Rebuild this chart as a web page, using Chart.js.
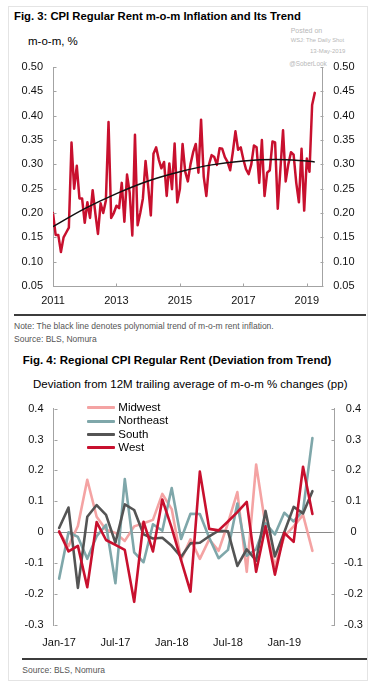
<!DOCTYPE html>
<html><head><meta charset="utf-8">
<script src="https://cdn.jsdelivr.net/npm/chart.js@4.4.1/dist/chart.umd.min.js"></script>
<style>
html,body{margin:0;padding:0;background:#fff;}
body{width:380px;height:688px;position:relative;overflow:hidden;font-family:"Liberation Sans",Arial,sans-serif;}
.t{position:absolute;white-space:nowrap;line-height:1;}
#frame{position:absolute;left:8px;top:6px;width:360px;height:675px;border:1px solid #e4e4e4;box-sizing:border-box;}
.wm{color:#b8b8b8;}
.sep{position:absolute;background:#3c3c3c;height:2px;}
canvas{position:absolute;left:0;}
.lg{position:absolute;width:28px;height:3px;border-radius:1px;}
</style></head><body>
<div id="frame"></div>
<div class="t" style="left:14px;top:11.1px;font-size:11.3px;font-weight:bold;">Fig. 3: CPI Regular Rent m-o-m Inflation and Its Trend</div>
<div class="t" style="left:28px;top:36.3px;font-size:11.5px;">m-o-m, %</div>
<div class="t wm" style="left:290.7px;top:26.8px;font-size:7px;">Posted on</div>
<div class="t wm" style="left:290.7px;top:37.8px;font-size:5.8px;">WSJ: The Daily Shot</div>
<div class="t wm" style="left:310px;top:48.2px;font-size:6px;">13-May-2019</div>
<div class="t wm" style="left:289.3px;top:61.3px;font-size:6.4px;">@SoberLook</div>
<canvas id="c1" width="380" height="260" style="top:50px"></canvas>
<div class="sep" style="left:14px;top:314px;width:352px;"></div>
<div class="t" style="left:14px;top:322.1px;font-size:8.5px;color:#555;">Note: The black line denotes polynomial trend of m-o-m rent inflation.</div>
<div class="t" style="left:14px;top:335.1px;font-size:8.5px;color:#555;">Source: BLS, Nomura</div>
<div class="t" style="left:22.7px;top:355.3px;font-size:11.5px;font-weight:bold;">Fig. 4: Regional CPI Regular Rent (Deviation from Trend)</div>
<div class="t" style="left:33px;top:379.3px;font-size:11.5px;">Deviation from 12M trailing average of m-o-m % changes (pp)</div>
<canvas id="c2" width="380" height="263" style="top:392px"></canvas>
<div id="legend"></div>
<div class="sep" style="left:22px;top:658px;width:345px;"></div>
<div class="t" style="left:22.3px;top:665.5px;font-size:8.5px;color:#555;">Source: BLS, Nomura</div>
<script>
// ---------- Fig. 3 data ----------
const rentStartYear = 2011; // monthly series starting Jan 2011
const rentMoM = [
  0.200,0.155,0.155,0.120,0.150,0.160,0.170,0.345,0.250,0.297,0.230,0.230,
  0.180,0.222,0.190,0.247,0.200,0.157,0.220,0.200,0.226,0.387,0.190,0.200,
  0.215,0.210,0.262,0.182,0.279,0.242,0.154,0.361,0.175,0.200,0.230,0.307,
  0.255,0.195,0.322,0.335,0.310,0.292,0.305,0.235,0.302,0.249,0.343,0.222,
  0.250,0.342,0.285,0.265,0.300,0.325,0.342,0.283,0.392,0.275,0.235,0.300,
  0.319,0.315,0.299,0.333,0.332,0.315,0.305,0.288,0.325,0.368,0.330,0.335,
  0.310,0.290,0.280,0.300,0.339,0.335,0.262,0.350,0.235,0.283,0.288,0.347,
  0.345,0.209,0.290,0.370,0.265,0.300,0.325,0.320,0.262,0.222,0.332,0.205,
  0.312,0.285,0.422,0.447
];
const trendYears  = [2011, 2012, 2013, 2014, 2015, 2016, 2017, 2018, 2019, 2019.25];
const trendValues = [0.172, 0.209, 0.240, 0.266, 0.285, 0.299, 0.307, 0.310, 0.307, 0.305];
const yearTicks = [2011, 2013, 2015, 2017, 2019];
const yearTickLabels = ['2011', '2013', '2015', '2017', '2019'];
const rentTicks = [0.05, 0.10, 0.15, 0.20, 0.25, 0.30, 0.35, 0.40, 0.45, 0.50];
const rentTickLabels = ['0.05','0.10','0.15','0.20','0.25','0.30','0.35','0.40','0.45','0.50'];

// ---------- Fig. 4 data ----------
const devMonths = ['Jan-17','Feb-17','Mar-17','Apr-17','May-17','Jun-17','Jul-17','Aug-17','Sep-17','Oct-17','Nov-17','Dec-17',
                   'Jan-18','Feb-18','Mar-18','Apr-18','May-18','Jun-18','Jul-18','Aug-18','Sep-18','Oct-18','Nov-18','Dec-18',
                   'Jan-19','Feb-19','Mar-19','Apr-19'];
const midwest   = [0.000,-0.045,0.020,0.170,0.050,0.008,-0.002,-0.028,0.019,0.029,0.040,0.124,0.075,-0.090,-0.023,-0.086,-0.023,-0.060,0.030,0.130,-0.128,0.219,0.020,-0.110,-0.013,0.019,0.056,-0.060];
const northeast = [-0.150,0.000,-0.015,-0.086,-0.013,0.024,-0.165,0.172,-0.065,-0.097,0.026,0.005,0.143,-0.022,0.060,0.059,-0.018,-0.084,-0.057,0.093,-0.076,-0.055,0.029,-0.007,0.063,0.035,0.070,0.305];
const south     = [0.014,0.080,-0.180,0.050,0.088,0.056,-0.034,0.090,0.072,-0.007,-0.020,-0.018,-0.044,-0.080,-0.036,-0.034,-0.013,0.005,0.003,-0.109,-0.055,-0.092,0.069,-0.078,0.000,0.082,0.061,0.133];
const west      = [0.003,-0.062,-0.044,-0.178,0.033,-0.025,-0.041,-0.057,-0.225,0.034,-0.062,0.106,0.014,-0.090,-0.192,0.196,0.011,0.006,0.035,0.065,0.098,-0.128,0.019,-0.137,-0.002,-0.031,0.212,0.059];
const devTickMonths = [0, 6, 12, 18, 24];
const devTicks = [-0.3, -0.2, -0.1, 0, 0.1, 0.2, 0.3, 0.4];
const devTickLabels = ['-0.3', '-0.2', '-0.1', '0', '0.1', '0.2', '0.3', '0.4'];
const seriesNames  = ['Midwest', 'Northeast', 'South', 'West'];
const seriesColors = ['#f4a3a3', '#7fa7aa', '#545454', '#c8102e'];

// ---------- common ----------
Chart.defaults.font.family = '"Liberation Sans", Arial, sans-serif';
Chart.defaults.color = '#111';
Chart.defaults.animation = false;

const inTicks = {
  id: 'inTicks',
  afterDatasetsDraw(chart, args, opts) {
    const ctx = chart.ctx;
    ctx.save();
    ctx.strokeStyle = opts.color; ctx.lineWidth = 1;
    ctx.beginPath();
    for (const id of opts.scales) {
      const s = chart.scales[id];
      s.ticks.forEach(t => {
        const p = Math.round(s.getPixelForValue(t.value)) + 0.5;
        if (s.isHorizontal()) { const y = Math.round(s.top) + 0.5; ctx.moveTo(p, y); ctx.lineTo(p, y - opts.len); }
        else if (s.position === 'left') { const x = Math.round(s.right) + 0.5; ctx.moveTo(x, p); ctx.lineTo(x + opts.len, p); }
        else { const x = Math.round(s.left) + 0.5; ctx.moveTo(x, p); ctx.lineTo(x - opts.len, p); }
      });
    }
    ctx.stroke();
    ctx.restore();
  }
};
const axisGray = '#a3a3a3';
const tickFont = {size: 11};

// ---------- Fig. 3 chart ----------
new Chart(document.getElementById('c1'), {
  type: 'line',
  data: {
    datasets: [
      {label: 'Trend', data: trendYears.map((x, i) => ({x, y: trendValues[i]})), borderColor: '#111', borderWidth: 1.5,
       pointRadius: 0, tension: 0.4, order: 0},
      {label: 'CPI regular rent m-o-m', data: rentMoM.map((v, i) => ({x: rentStartYear + i / 12, y: v})), borderColor: '#c8102e',
       borderWidth: 2.5, pointRadius: 0, tension: 0, borderJoinStyle: 'round', borderCapStyle: 'round', order: 1}
    ]
  },
  options: {
    responsive: false, devicePixelRatio: 1,
    layout: {padding: {top: 11, left: 0, right: 0, bottom: 0}},
    plugins: {legend: {display: false}, tooltip: {enabled: false},
      inTicks: {scales: ['x', 'y', 'y2'], len: 3, color: axisGray}},
    scales: {
      x: {type: 'linear', min: 2011, max: 2019.5,
          afterBuildTicks: s => { s.ticks = yearTicks.map(v => ({value: v})); },
          afterFit: s => { s.height = 24; },
          grid: {display: false, drawTicks: false}, border: {display: true, color: axisGray, width: 1},
          ticks: {callback: (v, i) => yearTickLabels[i], autoSkip: false, maxRotation: 0, padding: 8, font: tickFont}},
      y: {type: 'linear', position: 'left', min: 0.05, max: 0.50,
          afterBuildTicks: s => { s.ticks = rentTicks.map(v => ({value: v})); },
          afterFit: s => { s.width = 53; },
          grid: {display: false, drawTicks: false}, border: {display: true, color: axisGray, width: 1},
          ticks: {callback: (v, i) => rentTickLabels[i], padding: 10, font: tickFont}},
      y2: {type: 'linear', position: 'right', min: 0.05, max: 0.50,
          afterBuildTicks: s => { s.ticks = rentTicks.map(v => ({value: v})); },
          afterFit: s => { s.width = 57.3; },
          grid: {display: false, drawTicks: false}, border: {display: true, color: axisGray, width: 1},
          ticks: {callback: (v, i) => rentTickLabels[i], padding: 10.5, font: tickFont}}
    }
  },
  plugins: [inTicks]
});

// ---------- Fig. 4 chart ----------
const devSeries = [midwest, northeast, south, west];
const devOrder = [3, 2, 1, 0];
new Chart(document.getElementById('c2'), {
  type: 'line',
  data: {
    datasets: devSeries.map((arr, k) => ({
      label: seriesNames[k], data: arr.map((v, i) => ({x: i, y: v})),
      borderColor: seriesColors[k], borderWidth: 2.6, pointRadius: 0, tension: 0,
      borderJoinStyle: 'round', borderCapStyle: 'round', order: devOrder[k]
    }))
  },
  options: {
    responsive: false, devicePixelRatio: 1,
    layout: {padding: {top: 11, left: 0, right: 0, bottom: 0}},
    plugins: {legend: {display: false}, tooltip: {enabled: false},
      inTicks: {scales: ['y', 'y2'], len: 3, color: axisGray}},
    scales: {
      x: {type: 'linear', min: -0.6, max: 29.3,
          afterBuildTicks: s => { s.ticks = devTickMonths.map(v => ({value: v})); },
          afterFit: s => { s.height = 30; },
          grid: {display: false, drawTicks: false}, border: {display: false},
          ticks: {callback: (v, i) => devMonths[devTickMonths[i]], autoSkip: false, maxRotation: 0, padding: 11, font: tickFont}},
      y: {type: 'linear', position: 'left', min: -0.3, max: 0.4,
          afterBuildTicks: s => { s.ticks = devTicks.map(v => ({value: v})); },
          afterFit: s => { s.width = 53.5; },
          grid: {display: true, drawTicks: false, color: c => (c.tick && c.tick.value === 0) ? '#8a8a8a' : 'rgba(0,0,0,0)', lineWidth: 1},
          border: {display: true, color: axisGray, width: 1},
          ticks: {callback: (v, i) => devTickLabels[i], padding: 10, font: tickFont}},
      y2: {type: 'linear', position: 'right', min: -0.3, max: 0.4,
          afterBuildTicks: s => { s.ticks = devTicks.map(v => ({value: v})); },
          afterFit: s => { s.width = 46; },
          grid: {display: false, drawTicks: false}, border: {display: true, color: axisGray, width: 1},
          ticks: {callback: (v, i) => devTickLabels[i], padding: 10, crossAlign: 'center', font: tickFont}}
    }
  },
  plugins: [inTicks]
});

// ---------- legend (HTML, inside plot) ----------
const legend = document.getElementById('legend');
seriesNames.forEach((name, k) => {
  const cy = 407.7 + k * 13.33;
  const ln = document.createElement('div');
  ln.className = 'lg'; ln.style.left = '86.7px'; ln.style.top = (cy - 1.5) + 'px'; ln.style.background = seriesColors[k];
  legend.appendChild(ln);
  const tx = document.createElement('div');
  tx.className = 't'; tx.style.left = '118.3px'; tx.style.top = (cy + 4.1 - 9.73) + 'px'; tx.style.fontSize = '11.5px';
  tx.textContent = name;
  legend.appendChild(tx);
});
</script>
</body></html>
